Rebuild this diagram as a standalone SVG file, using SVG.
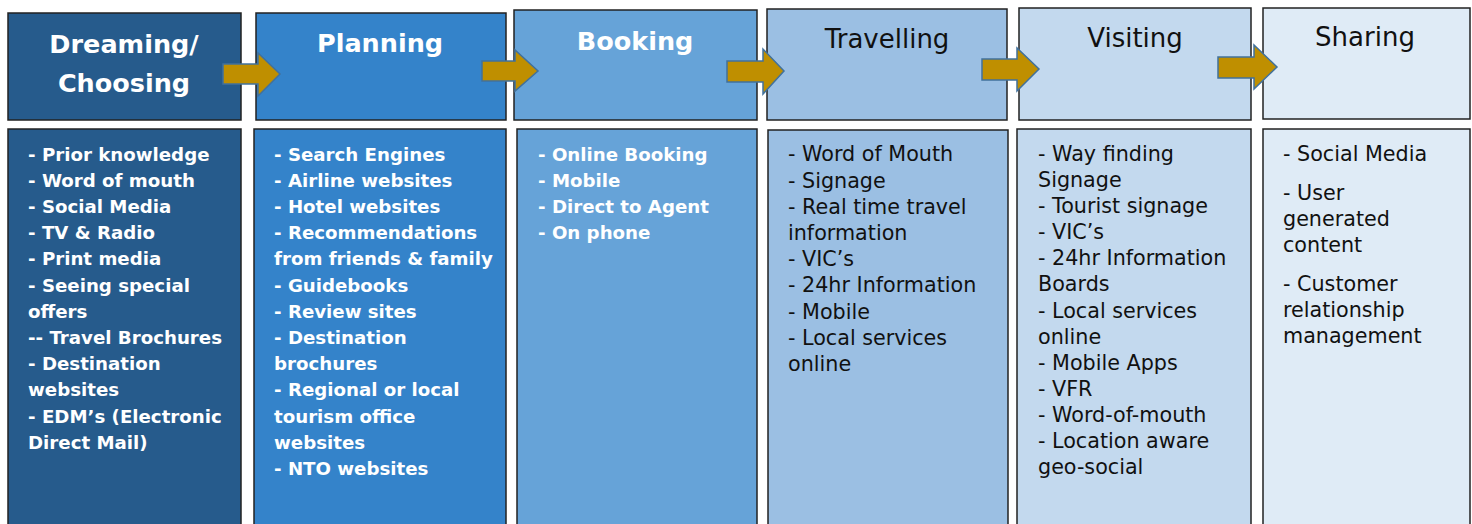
<svg xmlns="http://www.w3.org/2000/svg" width="1472" height="524" viewBox="0 0 1472 524">
<style>
.box{stroke:#222;stroke-width:1.5}
.c1{fill:#265B8C}.c2{fill:#3483CA}.c3{fill:#66A3D8}.c4{fill:#9BBFE3}.c5{fill:#C3D9EE}.c6{fill:#DFEBF6}
.hb{font-family:"DejaVu Sans",sans-serif;font-weight:bold;font-size:25.5px;fill:#fff;text-anchor:middle}
.hr{font-family:"DejaVu Sans",sans-serif;font-size:26px;fill:#111;text-anchor:middle}
.tb{font-family:"DejaVu Sans",sans-serif;font-weight:bold;font-size:18.2px;fill:#fff}
.tr{font-family:"DejaVu Sans",sans-serif;font-size:20.7px;fill:#111}
.arrow{fill:#BF8F00;stroke:#41719C;stroke-width:1.5;stroke-linejoin:miter}
</style>
<rect width="1472" height="524" fill="#fff"/>
<g id="dreaming">
<rect class="box c1" x="8" y="13" width="233" height="107"/>
<text class="hb" x="124" y="53">Dreaming/</text>
<text class="hb" x="124" y="92">Choosing</text>
<rect class="box c1" x="8" y="129" width="233" height="400"/>
<text class="tb" x="28" y="161">- Prior knowledge</text>
<text class="tb" x="28" y="187">- Word of mouth</text>
<text class="tb" x="28" y="213">- Social Media</text>
<text class="tb" x="28" y="239">- TV &amp; Radio</text>
<text class="tb" x="28" y="265">- Print media</text>
<text class="tb" x="28" y="292">- Seeing special</text>
<text class="tb" x="28" y="318">offers</text>
<text class="tb" x="28" y="344">-- Travel Brochures</text>
<text class="tb" x="28" y="370">- Destination</text>
<text class="tb" x="28" y="396">websites</text>
<text class="tb" x="28" y="423">- EDM’s (Electronic</text>
<text class="tb" x="28" y="449">Direct Mail)</text>
</g>
<g id="planning">
<rect class="box c2" x="256" y="13" width="250" height="107"/>
<text class="hb" x="380" y="52">Planning</text>
<rect class="box c2" x="254" y="129" width="252" height="400"/>
<text class="tb" x="274" y="161">- Search Engines</text>
<text class="tb" x="274" y="187">- Airline websites</text>
<text class="tb" x="274" y="213">- Hotel websites</text>
<text class="tb" x="274" y="239">- Recommendations</text>
<text class="tb" x="274" y="265">from friends &amp; family</text>
<text class="tb" x="274" y="292">- Guidebooks</text>
<text class="tb" x="274" y="318">- Review sites</text>
<text class="tb" x="274" y="344">- Destination</text>
<text class="tb" x="274" y="370">brochures</text>
<text class="tb" x="274" y="396">- Regional or local</text>
<text class="tb" x="274" y="423">tourism office</text>
<text class="tb" x="274" y="449">websites</text>
<text class="tb" x="274" y="475">- NTO websites</text>
</g>
<g id="booking">
<rect class="box c3" x="514" y="10" width="243" height="110"/>
<text class="hb" x="635" y="50">Booking</text>
<rect class="box c3" x="517" y="129" width="240" height="400"/>
<text class="tb" x="538" y="161">- Online Booking</text>
<text class="tb" x="538" y="187">- Mobile</text>
<text class="tb" x="538" y="213">- Direct to Agent</text>
<text class="tb" x="538" y="239">- On phone</text>
</g>
<g id="travelling">
<rect class="box c4" x="767" y="9" width="240" height="111"/>
<text class="hr" x="887" y="48">Travelling</text>
<rect class="box c4" x="768" y="130" width="240" height="400"/>
<text class="tr" x="788" y="161">- Word of Mouth</text>
<text class="tr" x="788" y="188">- Signage</text>
<text class="tr" x="788" y="214">- Real time travel</text>
<text class="tr" x="788" y="240">information</text>
<text class="tr" x="788" y="266">- VIC’s</text>
<text class="tr" x="788" y="292">- 24hr Information</text>
<text class="tr" x="788" y="319">- Mobile</text>
<text class="tr" x="788" y="345">- Local services</text>
<text class="tr" x="788" y="371">online</text>
</g>
<g id="visiting">
<rect class="box c5" x="1019" y="8" width="232" height="112"/>
<text class="hr" x="1135" y="47">Visiting</text>
<rect class="box c5" x="1017" y="129" width="234" height="400"/>
<text class="tr" x="1038" y="161">- Way finding</text>
<text class="tr" x="1038" y="187">Signage</text>
<text class="tr" x="1038" y="213">- Tourist signage</text>
<text class="tr" x="1038" y="239">- VIC’s</text>
<text class="tr" x="1038" y="265">- 24hr Information</text>
<text class="tr" x="1038" y="291">Boards</text>
<text class="tr" x="1038" y="318">- Local services</text>
<text class="tr" x="1038" y="344">online</text>
<text class="tr" x="1038" y="370">- Mobile Apps</text>
<text class="tr" x="1038" y="396">- VFR</text>
<text class="tr" x="1038" y="422">- Word-of-mouth</text>
<text class="tr" x="1038" y="448">- Location aware</text>
<text class="tr" x="1038" y="474">geo-social</text>
</g>
<g id="sharing">
<rect class="box c6" x="1263" y="8" width="207" height="111"/>
<text class="hr" x="1365" y="46">Sharing</text>
<rect class="box c6" x="1263" y="129" width="207" height="400"/>
<text class="tr" x="1283" y="161">- Social Media</text>
<text class="tr" x="1283" y="200">- User</text>
<text class="tr" x="1283" y="226">generated</text>
<text class="tr" x="1283" y="252">content</text>
<text class="tr" x="1283" y="291">- Customer</text>
<text class="tr" x="1283" y="317">relationship</text>
<text class="tr" x="1283" y="343">management</text>
</g>
<g id="connectors">
<path class="arrow" d="M223 64 H258 V53 L280 74 L258 96 V84 H223 Z"/>
<path class="arrow" d="M482 61 H515 V50 L538 71 L515 91 V81 H482 Z"/>
<path class="arrow" d="M727 61 H763 V49 L784 71 L763 94 V82 H727 Z"/>
<path class="arrow" d="M982 59 H1017 V48 L1039 69 L1017 91 V80 H982 Z"/>
<path class="arrow" d="M1218 57 H1254 V45 L1277 67 L1254 89 V78 H1218 Z"/>
</g>
</svg>
